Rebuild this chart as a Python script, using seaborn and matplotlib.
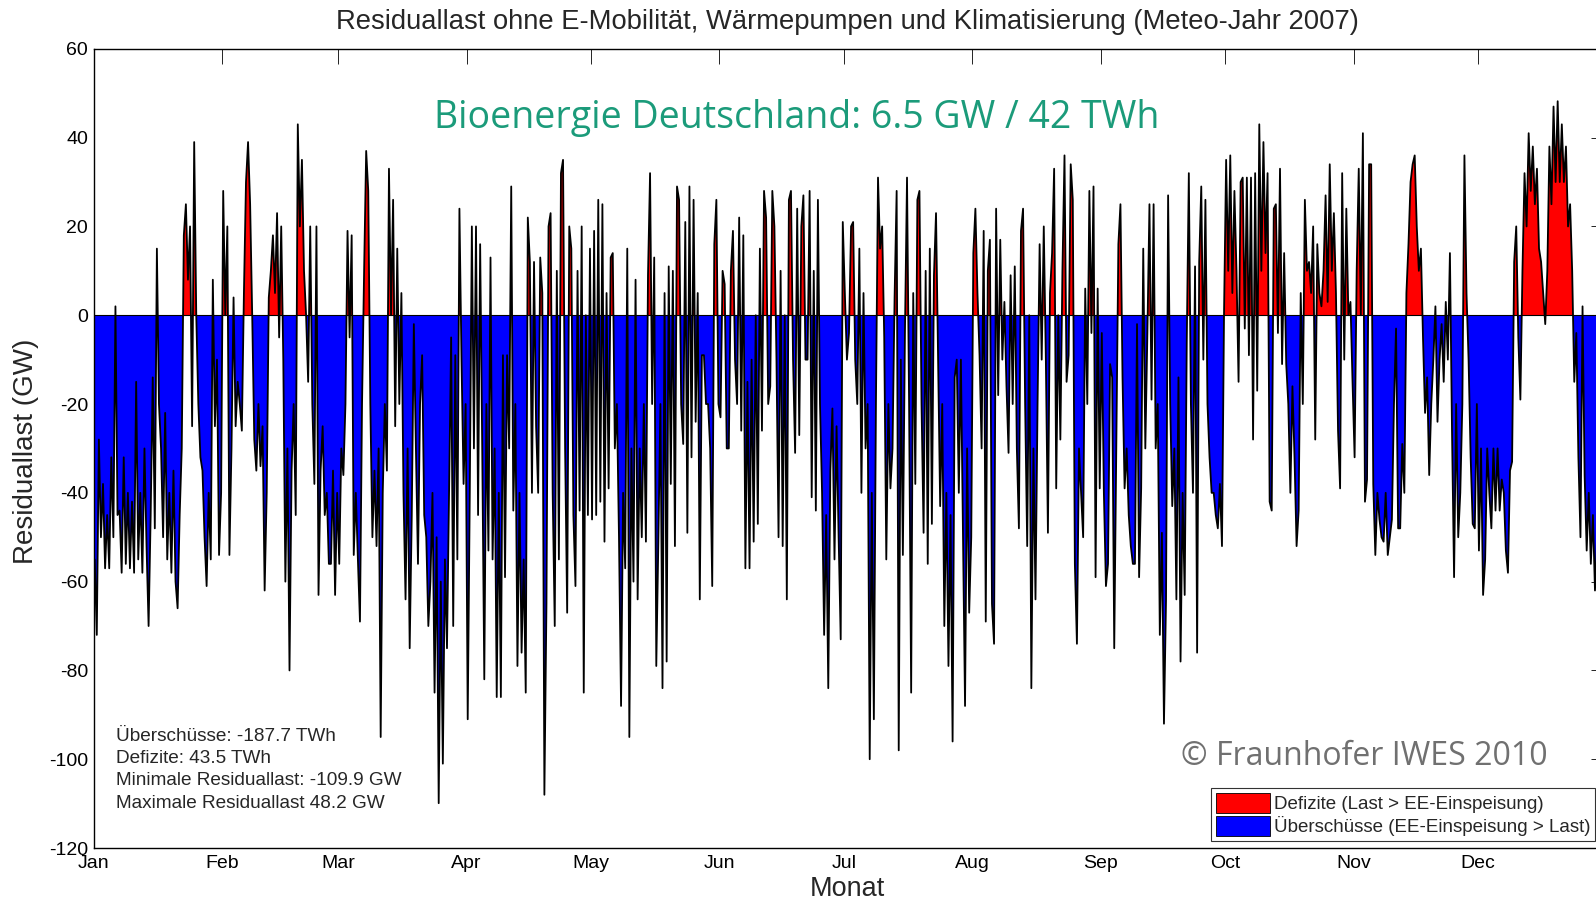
import numpy as np
import pandas as pd
import matplotlib
matplotlib.use("Agg")
import matplotlib.pyplot as plt
import seaborn as sns
from matplotlib.patches import Patch

# ---------------- data (GW), two readings per day ----------------
month_names = ["Jan", "Feb", "Mar", "Apr", "May", "Jun",
               "Jul", "Aug", "Sep", "Oct", "Nov", "Dec"]
month_start_day = [0, 31, 59, 90, 120, 151, 181, 212, 243, 273, 304, 334]

jan_gw = [-55, -72, -28, -50, -38, -57, -45, -57, -32, -50, 2, -45, -44, -58, -32, -56,
          -40, -57, -42, -58, -15, -55, -40, -58, -30, -52, -70, -45, -14, -48, 15, -20,
          -30, -50, -22, -55, -40, -58, -35, -60, -66, -45, -30, 18, 25, 8, 20, -25,
          39, 0, -20, -32, -35, -50, -61, -40, -55, 8, -25, -10, -54, -40]
feb_gw = [28, 0, 20, -54, -30, 4, -25, -15, -20, -26, 5, 30, 39, 25, 0, -28,
          -35, -20, -34, -25, -62, -40, 4, 10, 18, 5, 23, -5, 20, -10, -60, -30,
          -80, -35, -20, -45, 43, 20, 35, 10, 0, -15, 20, -20, -38, 20, -63, -35,
          -25, -45, -40, -56, -56, -35, -63, -40]
mar_gw = [-56, -30, -36, -20, 19, -5, 18, -54, -40, -55, -69, -20, 10, 37, 28, -20,
          -50, -35, -52, -30, -95, -40, -20, -35, 33, 0, 26, -25, 15, -20, 5, -40,
          -64, -30, -75, -45, -2, -30, -56, -20, -9, -45, -50, -70, -60, -40, -85, -50,
          -109.9, -60, -101, -55, -75, -40, -5, -70, -9, -55, 24, -10, -38, -20]
apr_gw = [-91, -40, 20, -30, 20, -45, 16, -30, -82, -20, -53, 13, -55, -30, -86, -40,
          -86, -9, -59, -9, -30, 29, -44, -20, -79, -40, -76, -55, -85, 22, 12, -40,
          12, -25, -40, 13, 5, -108, -65, 20, 23, -40, -70, 10, -55, 32, 35, -30,
          -67, 20, 15, -45, -61, 10, -44, 20, -85, 0, -45, 15]
may_gw = [-46, 19, -45, 26, -42, 25, -51, 5, -39, 13, 14, -30, -20, -50, -88, -40,
          -57, 15, -95, -30, -60, 8, -64, -30, -50, -20, -51, 9, 32, -20, 13, -79,
          -51, -20, -84, 5, -78, 11, -38, 10, -52, 29, 26, -20, -29, 21, -49, 29,
          -32, 26, -24, 5, -64, -9, -9, -20, -20, -30, -61, 16, 26, -20]
jun_gw = [-23, 10, 7, -30, -30, 10, 19, -10, -20, 22, -26, 18, -57, -15, -57, -10,
          -51, 0, -47, 15, -26, 28, 22, -20, -16, 28, 20, -10, -50, 10, -52, 0,
          -64, 26, 28, -10, -31, 24, -27, 20, 27, -10, -10, 28, -41, 10, -44, 26,
          -20, -40, -72, -45, -84, -35, -21, -55, -25, -50, -73, 21]
jul_gw = [5, -10, -4, 20, 21, -10, -20, 15, -40, 5, -30, -20, -100, -40, -91, -20,
          31, 15, 20, -5, -55, -20, -39, -30, 4, 28, -98, -10, -54, -4, 31, -20,
          -85, 5, -38, 26, 28, -20, -49, 10, -56, 15, -47, 9, 23, -10, -43, -20,
          -70, -40, -79, -45, -96, -14, -10, -40, -10, -50, -88, -30, -67, -50]
aug_gw = [14, 24, 5, -9, -30, 19, -69, 10, 17, -65, -74, 24, -18, 17, -10, 3,
          -16, -31, 9, -20, 11, -30, -48, 19, 24, -20, -52, 0, -84, -30, -64, -20,
          16, -10, 20, -10, -49, 5, 14, 33, -39, 0, -28, 10, 36, -15, -9, 34,
          26, -56, -74, -30, -40, -50, 6, -20, 28, -4, 29, -59, 6, -39]
sep_gw = [-4, -40, -61, -56, -11, -14, -75, -30, 16, 25, -14, -39, -30, -45, -52, -56,
          -56, -2, -59, -39, 15, -30, -4, 25, -19, 25, -30, -20, -72, -49, -92, -64,
          27, -20, -43, -30, -64, -14, -78, -40, -63, -6, 32, -20, -40, 11, -76, 12,
          29, -10, 26, -20, -32, -40, -40, -45, -48, -38, -52, 1]
oct_gw = [35, 10, 36, 5, 28, 10, -15, 30, 31, -3, 31, -9, 31, -28, 32, -17,
          43, 10, 39, 14, 32, -42, -44, 24, 25, -4, 33, -11, 14, -11, -20, -40,
          -16, -32, -52, -44, 5, -20, 26, 10, 12, 5, 20, -28, 16, 5, 2, 10,
          27, 3, 34, 10, 23, 5, -26, -39, 32, -10, 24, 0, 3, -15]
nov_gw = [-32, 10, 33, 0, 41, -42, -37, 34, 34, -38, -54, -40, -46, -50, -51, -40,
          -54, -50, -46, -20, -3, -48, -48, -29, -40, 5, 16, 30, 34, 36, 20, 10,
          15, -5, -22, -14, -36, -20, -10, 2, -24, -10, -2, -15, 3, -10, 14, -26,
          -59, -20, -50, -40, -20, 36, 5, -10, -32, -47, -48, -20]
dec_gw = [-53, -30, -63, -55, -30, -40, -48, -30, -44, -30, -44, -37, -40, -53, -58, -35,
          -33, 12, 20, -5, -19, 10, 32, 20, 41, 28, 38, 25, 33, 15, 12, 5,
          -2, 10, 38, 25, 47, 30, 48.2, 30, 43, 30, 38, 20, 25, 10, -15, -4,
          -32, -50, 2, -36, -53, -40, -56, -45, -62, -50]

stat_lines = ["Überschüsse: -187.7 TWh", "Defizite: 43.5 TWh",
              "Minimale Residuallast: -109.9 GW", "Maximale Residuallast 48.2 GW"]
legend_labels = ["Defizite (Last > EE-Einspeisung)", "Überschüsse (EE-Einspeisung > Last)"]

# ---------------- assemble ----------------
monthly = [jan_gw, feb_gw, mar_gw, apr_gw, may_gw, jun_gw,
           jul_gw, aug_gw, sep_gw, oct_gw, nov_gw, dec_gw]
rows = []
for start, vals in zip(month_start_day, monthly):
    for i, v in enumerate(vals):
        rows.append((start + 0.25 + 0.5 * i, v))
df = pd.DataFrame(rows, columns=["day", "gw"])

sns.set_theme(style="white")
plt.rcParams["font.family"] = ["Liberation Sans", "DejaVu Sans"]
plt.rcParams["axes.unicode_minus"] = False

fig = plt.figure(figsize=(15.96, 9.01), dpi=100)
ax = fig.add_axes([0.0587, 0.0588, 0.9478, 0.887])

x = df["day"].values
y = df["gw"].values
ax.fill_between(x, 0, y, where=y >= 0, interpolate=True, color="#ff0000", lw=0, zorder=1)
ax.fill_between(x, 0, y, where=y <= 0, interpolate=True, color="#0000ff", lw=0, zorder=1)
sns.lineplot(data=df, x="day", y="gw", ax=ax, color="black", lw=1.3,
             estimator=None, sort=False, zorder=2)
ax.axhline(0, color="black", lw=0.8, zorder=3)

ax.set_xlim(0, 365)
ax.set_ylim(-120, 60)
ax.set_xticks(month_start_day, month_names)
ax.set_yticks(np.arange(-120, 61, 20))
ax.set_xlabel("")
ax.set_ylabel("")
ax.tick_params(direction="in", top=True, right=True, length=10.5, width=0.6,
               labelsize=14, colors="black", pad=4)
ax.tick_params(axis="x", pad=5)
for s in ax.spines.values():
    s.set_color("black")
    s.set_linewidth(1.0)

fig.text(0.531, 0.976, "Residuallast ohne E-Mobilität, Wärmepumpen und Klimatisierung (Meteo-Jahr 2007)",
         ha="center", va="center", fontsize=19.7)
fig.text(0.0166, 0.4994, "Residuallast (GW)", rotation=90, ha="center", va="center", fontsize=20)
fig.text(0.531, 0.0135, "Monat", ha="center", va="center", fontsize=19.5)

fig.text(0.4994, 0.8695, "Bioenergie Deutschland: 6.5 GW / 42 TWh", ha="center", va="center",
         fontsize=27, color="#1b9b7a", family=["Open Sans", "DejaVu Sans"])
fig.text(0.855, 0.1605, "© Fraunhofer IWES 2010", ha="center", va="center",
         fontsize=23, color="#707070", family=["Open Sans", "DejaVu Sans"])

for yy, t in zip([0.183, 0.158, 0.1333, 0.1085], stat_lines):
    fig.text(0.0727, yy, t, ha="left", va="center", fontsize=13.7)

handles = [Patch(facecolor="#ff0000", edgecolor="black", lw=0.6, label=legend_labels[0]),
           Patch(facecolor="#0000ff", edgecolor="black", lw=0.6, label=legend_labels[1])]
leg = ax.legend(handles=handles, loc="lower right", bbox_to_anchor=(0.9995, 0.0667),
                bbox_transform=fig.transFigure, fontsize=13.5, frameon=True, fancybox=False,
                edgecolor="black", borderpad=0.25, handlelength=2.9, handleheight=1.25,
                handletextpad=0.2, labelspacing=0.15, borderaxespad=0)
leg.get_frame().set_linewidth(0.8)

fig.savefig("out.png", dpi=100)
